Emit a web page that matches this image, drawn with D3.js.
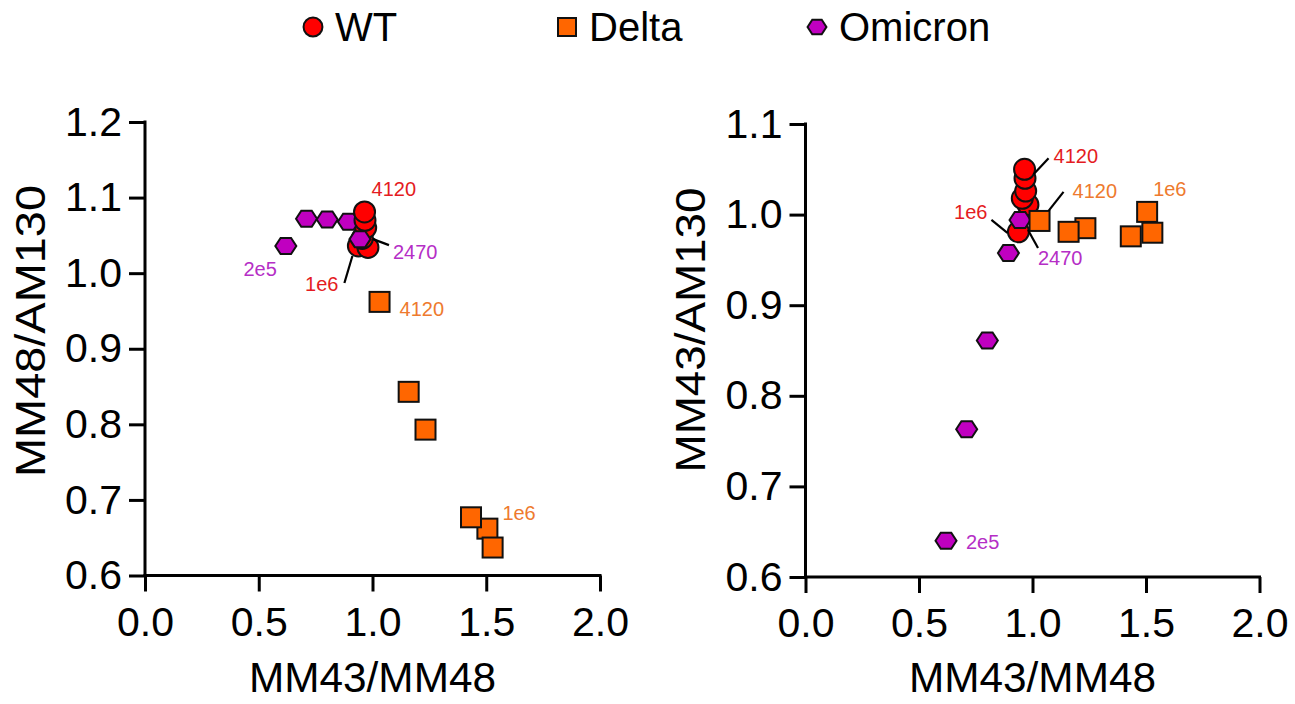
<!DOCTYPE html>
<html><head><meta charset="utf-8">
<script src="https://cdn.jsdelivr.net/npm/d3@7"></script>
<style>
body{margin:0;background:#fff}
svg{display:block}
text{font-family:"Liberation Sans",Arial,Helvetica,sans-serif}
</style>
</head><body>
<svg id="chart" width="1295" height="704"></svg>
<script>
// ---------------- DATA ----------------
const seriesNames = ["WT", "Delta", "Omicron"];

// x = MM43/MM48 (shared by both panels); ordered from highest dose to lowest dose
const wtX      = [0.938, 0.980, 0.955, 0.970, 0.967, 0.965];
const wtYLeft  = [1.036, 1.034, 1.046, 1.060, 1.070, 1.081];   // MM48/AM130
const wtYRight = [0.981, 1.011, 1.018, 1.026, 1.040, 1.050];   // MM43/AM130

const deltaX      = [1.505, 1.528, 1.433, 1.233, 1.159, 1.031];
const deltaYLeft  = [0.662, 0.637, 0.677, 0.793, 0.843, 0.962];
const deltaYRight = [1.003, 0.980, 0.976, 0.985, 0.981, 0.993];

const omiX      = [0.619, 0.710, 0.801, 0.894, 0.945];
const omiYLeft  = [1.036, 1.072, 1.071, 1.068, 1.045];
const omiYRight = [0.640, 0.763, 0.861, 0.9575, 0.994];

const xTicks      = [0, 0.5, 1.0, 1.5, 2.0];
const yTicksLeft  = [0.6, 0.7, 0.8, 0.9, 1.0, 1.1, 1.2];
const yTicksRight = [0.6, 0.7, 0.8, 0.9, 1.0, 1.1];

const xTitle       = "MM43/MM48";
const yTitleLeft   = "MM48/AM130";
const yTitleRight  = "MM43/AM130";

// point annotations: text, series index, point index, panel
const annotText   = ["4120", "1e6", "2470", "2e5", "4120", "1e6",
                     "4120", "1e6", "4120", "1e6", "2470", "2e5"];
const annotSeries = [0, 0, 2, 2, 1, 1,   0, 0, 1, 1, 2, 2];
const annotIndex  = [5, 0, 4, 0, 5, 0,   5, 0, 5, 0, 4, 0];
const annotPanel  = [0, 0, 0, 0, 0, 0,   1, 1, 1, 1, 1, 1];

// ---------------- LAYOUT / STYLE ----------------
const fill      = ["#ff0000", "#ff6600", "#c000c0"];
const labelCol  = ["#e41b22", "#ee7a2e", "#b52ec6"];
const panels = [
  {left:145, right:600, top:122, bottom:575.5, yDomain:[0.6,1.2], yTicks:yTicksLeft,  yTitle:yTitleLeft,
   yTitleX:30, yTitleY:331, yTitleLen:292, ys:[wtYLeft, deltaYLeft, omiYLeft]},
  {left:805.5, right:1259.5, top:124, bottom:577, yDomain:[0.6,1.1], yTicks:yTicksRight, yTitle:yTitleRight,
   yTitleX:690, yTitleY:330, yTitleLen:285, ys:[wtYRight, deltaYRight, omiYRight]}
];
const xsBySeries = [wtX, deltaX, omiX];
// label offsets relative to the annotated point (dx, dy, anchor, leader [x1,y1,x2,y2] or null)
const annotLayout = [
  {dx:7,   dy:-23, a:"start", l:null},
  {dx:-20, dy:38,  a:"end",   l:[-14,37,-6,10]},
  {dx:33,  dy:13,  a:"start", l:[13,0,29,6]},
  {dx:-9,  dy:23,  a:"end",   l:null},
  {dx:20,  dy:7,   a:"start", l:null},
  {dx:15,  dy:-16, a:"start", l:null},
  {dx:29,  dy:-13, a:"start", l:[9,5,24,-11]},
  {dx:-31, dy:-20, a:"end",   l:[-27,-12,-11,1]},
  {dx:33,  dy:-30, a:"start", l:[9,-10,24,-29]},
  {dx:6,   dy:-23, a:"start", l:null},
  {dx:18,  dy:38,  a:"start", l:[8,10,18,28]},
  {dx:20,  dy:1,   a:"start", l:null}
];

const svg = d3.select("#chart");
const hexPath = (w, h) => {
  const a = w/2, b = w/4, c = h/2;
  return `M${-a},0L${-b},${-c}L${b},${-c}L${a},0L${b},${c}L${-b},${c}Z`;
};
function drawMarker(g, s, x, y, big) {
  const k = big ? 1 : 0.9;
  let m;
  if (s === 0) m = g.append("circle").attr("cx", x).attr("cy", y).attr("r", 10.5*k);
  else if (s === 1) { const w = 20*k; m = g.append("rect").attr("x", x-w/2).attr("y", y-w/2).attr("width", w).attr("height", w); }
  else m = g.append("path").attr("d", hexPath(21*k, 16*k)).attr("transform", `translate(${x},${y})`);
  m.attr("fill", fill[s]).attr("stroke", "#111").attr("stroke-width", 2);
}

panels.forEach((p, pi) => {
  const x = d3.scaleLinear().domain([0, 2]).range([p.left, p.right]);
  const y = d3.scaleLinear().domain(p.yDomain).range([p.bottom, p.top]);
  p.x = x; p.y = y;
  const g = svg.append("g");

  const xa = g.append("g").attr("transform", `translate(0,${p.bottom})`)
    .call(d3.axisBottom(x).tickValues(xTicks).tickFormat(d3.format(".1f")).tickSize(16).tickSizeOuter(0).tickPadding(15));
  const ya = g.append("g").attr("transform", `translate(${p.left},0)`)
    .call(d3.axisLeft(y).tickValues(p.yTicks).tickFormat(d3.format(".1f")).tickSize(16).tickSizeOuter(0).tickPadding(7));
  [xa, ya].forEach(a => {
    a.select(".domain").attr("stroke", "#000").attr("stroke-width", 3);
    a.selectAll(".tick line").attr("stroke", "#000").attr("stroke-width", 3);
    a.selectAll(".tick text").attr("font-size", 41).attr("fill", "#000")
      .attr("font-family", '"Liberation Sans",Arial,sans-serif');
  });
  ya.select(".domain").attr("d", `M0,${p.top-1.5}V${p.bottom+1.5}`);
  xa.select(".domain").attr("d", `M${p.left-1.5},0H${p.right+1.5}`);

  g.append("text").attr("x", (p.left+p.right)/2).attr("y", 692).attr("text-anchor", "middle")
    .attr("font-size", 42).attr("textLength", 247).attr("lengthAdjust", "spacingAndGlyphs").text(xTitle);
  g.append("text").attr("transform", `translate(${p.yTitleX},${p.yTitleY}) rotate(-90)`)
    .attr("text-anchor", "middle").attr("dy", "0.35em").attr("font-size", 42)
    .attr("textLength", p.yTitleLen).attr("lengthAdjust", "spacingAndGlyphs").text(p.yTitle);

  // points drawn row by row (interleaved series), like the original
  const maxRows = d3.max(xsBySeries, a => a.length);
  const pg = g.append("g");
  for (let r = 0; r < maxRows; r++) {
    for (let s = 0; s < 3; s++) {
      if (r < xsBySeries[s].length) drawMarker(pg, s, x(xsBySeries[s][r]), y(p.ys[s][r]), true);
    }
  }
});

// annotations
annotText.forEach((t, i) => {
  const p = panels[annotPanel[i]], s = annotSeries[i], j = annotIndex[i], L = annotLayout[i];
  const px = p.x(xsBySeries[s][j]), py = p.y(p.ys[s][j]);
  if (L.l) svg.append("line").attr("x1", px+L.l[0]).attr("y1", py+L.l[1]).attr("x2", px+L.l[2]).attr("y2", py+L.l[3])
    .attr("stroke", "#000").attr("stroke-width", 2.2);
  svg.append("text").attr("x", px+L.dx).attr("y", py+L.dy).attr("dy", "0.35em").attr("text-anchor", L.a)
    .attr("font-size", 20).attr("fill", labelCol[s]).text(t);
});

// legend
const legX = [313, 567, 817];
const lg = svg.append("g");
seriesNames.forEach((n, s) => {
  drawMarker(lg, s, legX[s], 27, false);
  lg.append("text").attr("x", legX[s] + 22).attr("y", 27).attr("dy", "0.36em").attr("font-size", 40).text(n);
});
</script>
</body></html>
